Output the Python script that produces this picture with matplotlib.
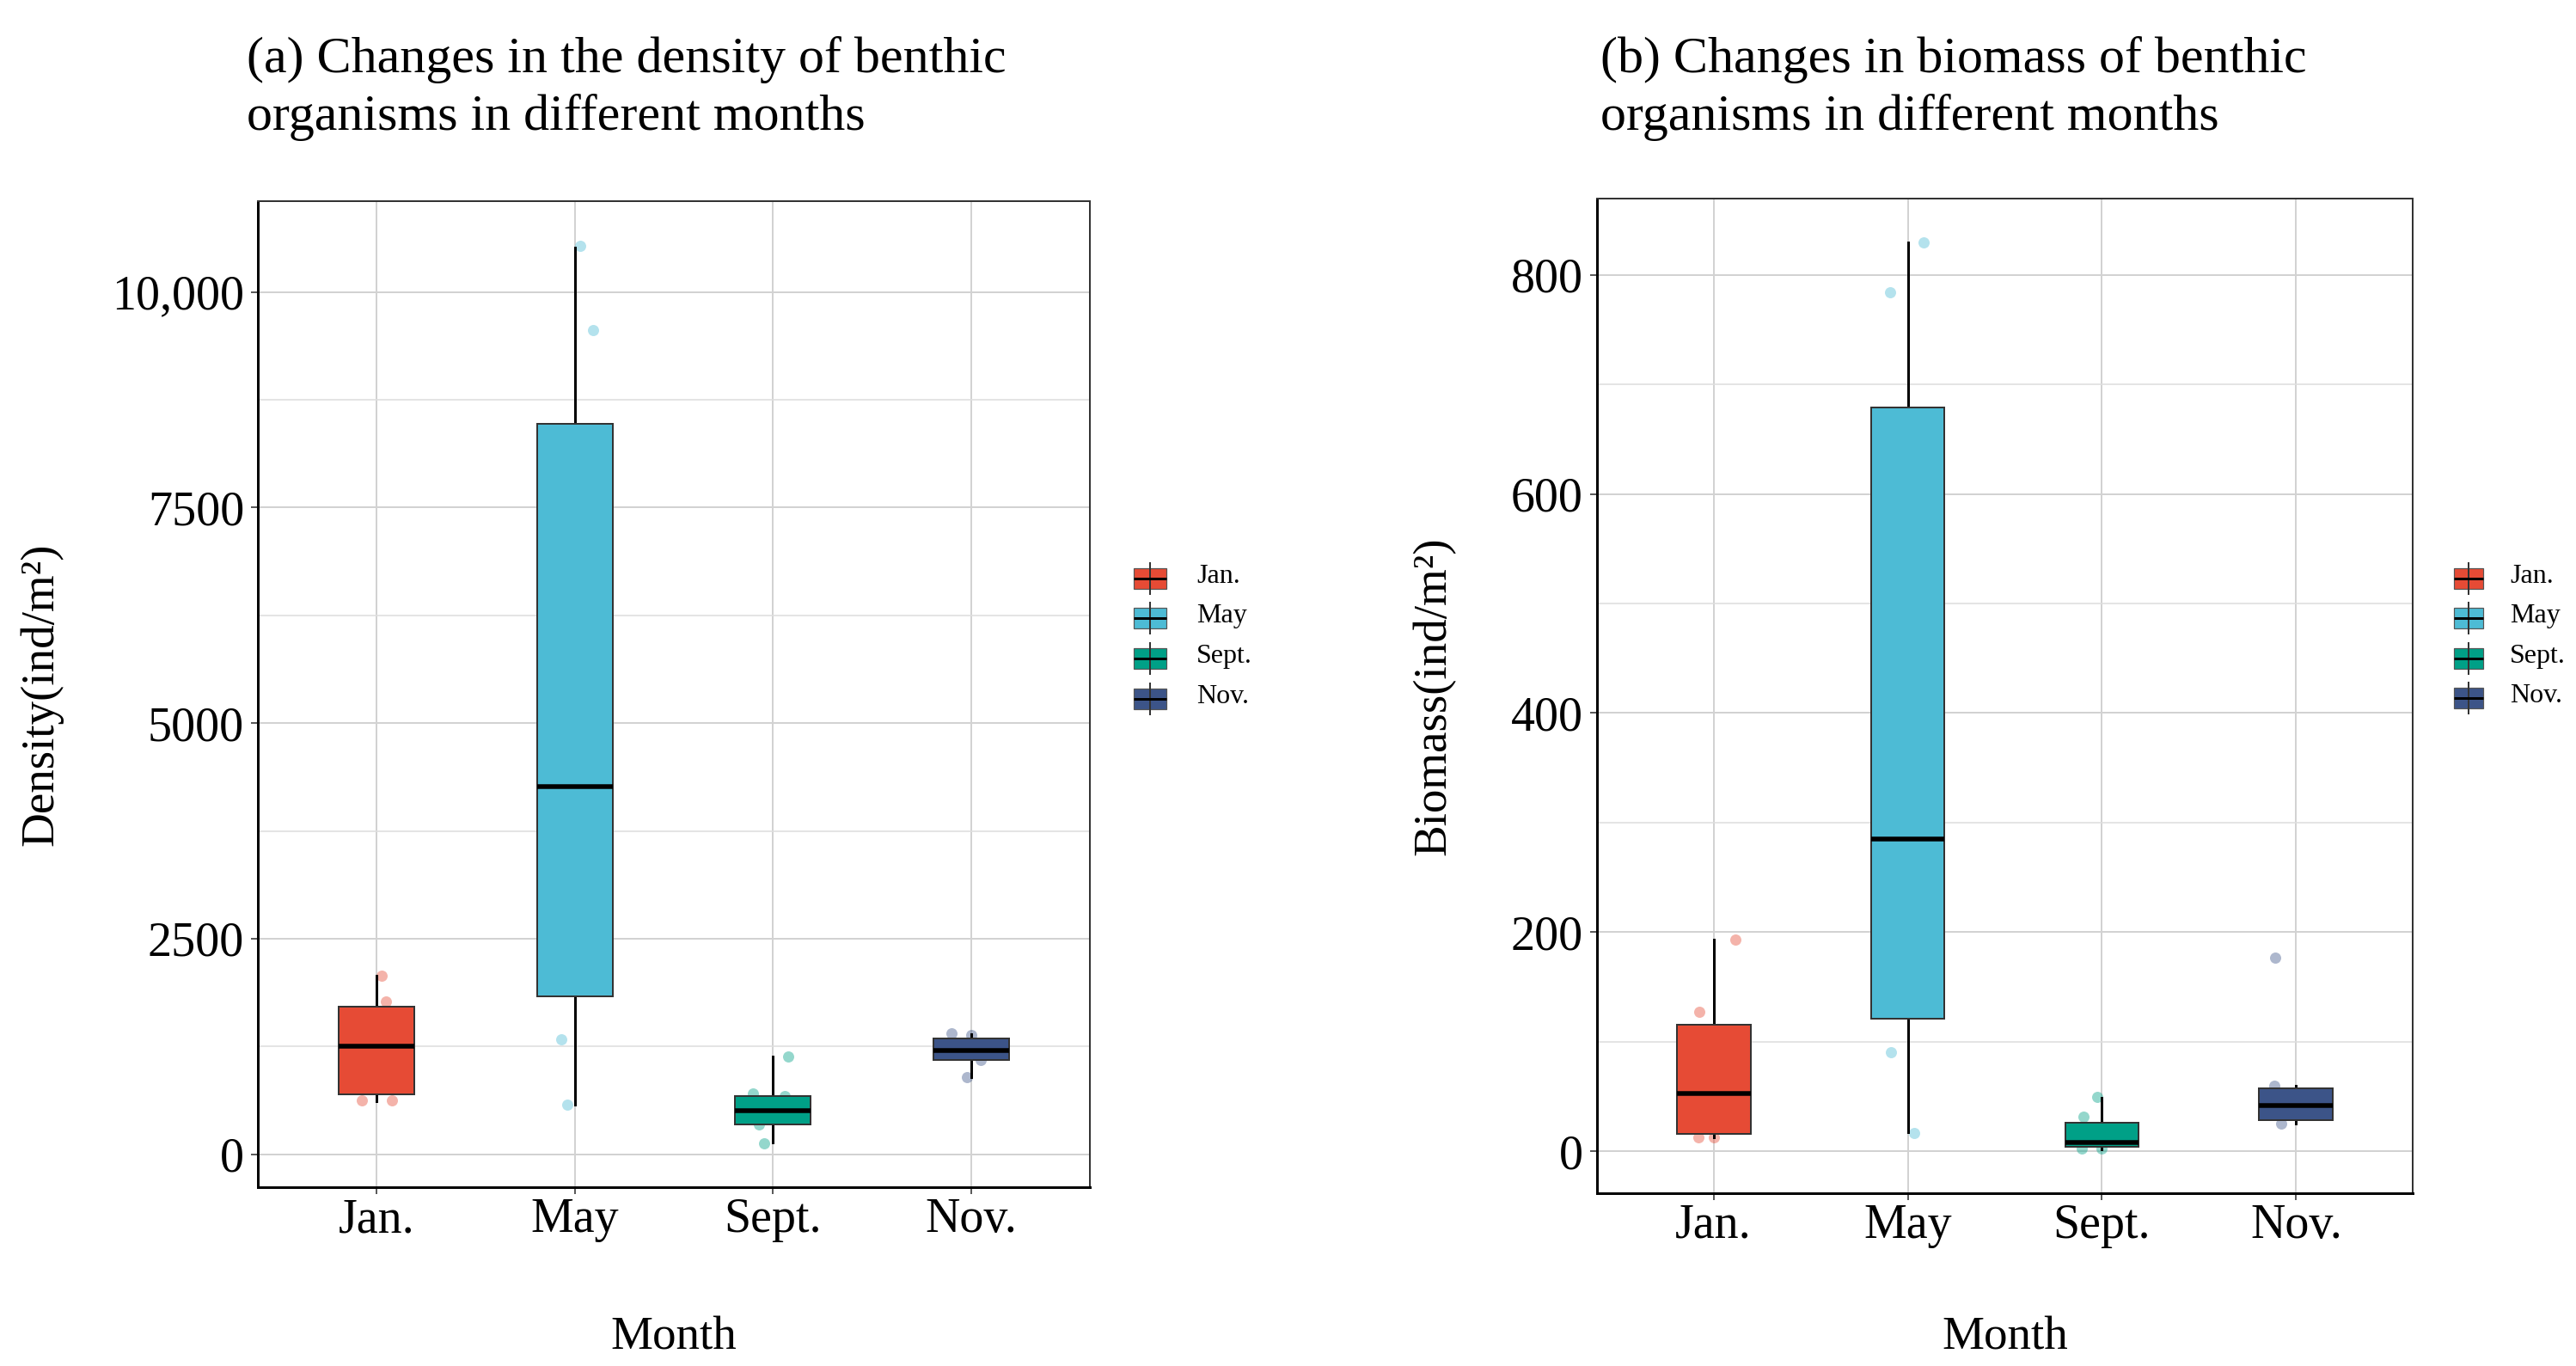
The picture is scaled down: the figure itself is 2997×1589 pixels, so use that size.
import matplotlib
matplotlib.use("Agg")
import matplotlib.pyplot as plt
import numpy as np
from matplotlib.patches import Rectangle
from matplotlib.ticker import FixedLocator, MultipleLocator

plt.rcParams['font.family'] = ['Liberation Serif', 'DejaVu Serif']

# ---------------- data ----------------
months = ['Jan.', 'May', 'Sept.', 'Nov.']
colors = ['#E64B35', '#4DBBD5', '#00A087', '#3C5488']

# density box statistics (ind/m2)
dens_lo = [617, 580, 135, 890]
dens_q1 = [693, 1832, 348, 1090]
dens_med = [1257, 4267, 502, 1206]
dens_q3 = [1716, 8473, 674, 1346]
dens_hi = [2068, 10519, 1130, 1389]

# density visible sample points and their jitter offsets
dens_pts_jan = [2071, 1771, 624, 624]
dens_jit_jan = [0.026, 0.048, -0.075, 0.077]
dens_pts_may = [10533, 9557, 1329, 580]
dens_jit_may = [0.028, 0.090, -0.069, -0.038]
dens_pts_sep = [1130, 707, 674, 342, 130]
dens_jit_sep = [0.079, -0.100, 0.058, -0.072, -0.046]
dens_pts_nov = [1405, 1381, 1093, 890]
dens_jit_nov = [-0.100, 0.000, 0.050, -0.020]

# biomass box statistics
bio_lo = [12.6, 17.4, 1.5, 25.2]
bio_q1 = [15.6, 120.6, 3.6, 28.2]
bio_med = [52.8, 285.1, 7.8, 42.0]
bio_q3 = [115.2, 678.8, 25.8, 57.0]
bio_hi = [193.2, 829.5, 48.6, 60.0]

bio_pts_jan = [193.1, 127.3, 12.6, 12.6]
bio_jit_jan = [0.114, -0.073, -0.079, 0.000]
bio_pts_may = [829.5, 784.5, 90.0, 16.8]
bio_jit_may = [0.082, -0.093, -0.087, 0.034]
bio_pts_sep = [49.2, 31.2, 2.4, 2.4]
bio_jit_sep = [-0.025, -0.096, -0.102, 0.000]
bio_pts_nov = [177.0, 60.0, 25.2]
bio_jit_nov = [-0.107, -0.113, -0.076]

dens_ticks = [0, 2500, 5000, 7500, 10000]
dens_ticklabels = ['0', '2500', '5000', '7500', '10,000']
bio_ticks = [0, 200, 400, 600, 800]
bio_ticklabels = ['0', '200', '400', '600', '800']

title_a = '(a) Changes in the density of benthic\norganisms in different months'
title_b = '(b) Changes in biomass of benthic\norganisms in different months'

# ---------------- figure ----------------
W, H = 2997, 1589
DPI = 100
fig = plt.figure(figsize=(W / DPI, H / DPI), dpi=DPI)
PT = 72.0 / DPI  # points per pixel


def px_axes(l, t, r, b):
    return fig.add_axes([l / W, 1 - b / H, (r - l) / W, (b - t) / H])


ax_a = px_axes(300, 234, 1268, 1381)
ax_b = px_axes(1858, 231, 2807, 1388)

TICK_FS = 56 * PT
LAB_FS = 55 * PT


def draw_panel(ax, lo, q1, med, q3, hi, pts, jits, ylim, minor_step,
               ticks, ticklabels, ylabel, ylabel_x, xlabel_y):
    pos = np.arange(1, len(months) + 1)
    # jittered points (drawn below boxes)
    for i, (p, j) in enumerate(zip(pts, jits)):
        ax.scatter(pos[i] + np.array(j), p, s=(13 * PT) ** 2,
                   color=colors[i], alpha=0.42, linewidths=0, zorder=2)
    stats = []
    for i in range(len(months)):
        stats.append(dict(med=med[i], q1=q1[i], q3=q3[i],
                          whislo=lo[i], whishi=hi[i], fliers=[]))
    bp = ax.bxp(stats, positions=pos, widths=0.38, patch_artist=True,
                showcaps=False, showfliers=False,
                boxprops=dict(edgecolor='#333333', linewidth=2 * PT),
                whiskerprops=dict(color='black', linewidth=3 * PT),
                medianprops=dict(color='black', linewidth=5.5 * PT,
                                 solid_capstyle='butt'))
    for patch, c in zip(bp['boxes'], colors):
        patch.set_facecolor(c)
        patch.set_zorder(3)
    for w in bp['whiskers']:
        w.set_zorder(2.8)
    for m in bp['medians']:
        m.set_zorder(4)

    ax.set_xlim(0.4, 4.6)
    ax.set_ylim(*ylim)
    ax.set_xticks(pos)
    ax.set_xticklabels(months, fontsize=TICK_FS)
    ax.yaxis.set_major_locator(FixedLocator(ticks))
    ax.set_yticklabels(ticklabels, fontsize=TICK_FS)
    ax.yaxis.set_minor_locator(MultipleLocator(minor_step))
    ax.grid(True, which='major', color='#d2d2d2', linewidth=2 * PT, zorder=0)
    ax.grid(True, which='minor', axis='y', color='#dedede',
            linewidth=1.6 * PT, zorder=0)
    ax.set_axisbelow(True)
    ax.tick_params(axis='both', which='major', length=8 * PT,
                   width=1.6 * PT, color='#333333', pad=4 * PT)
    ax.tick_params(axis='y', which='major', pad=8 * PT)
    ax.tick_params(axis='y', which='minor', length=0)
    for s in ['top', 'right']:
        ax.spines[s].set_color('#333333')
        ax.spines[s].set_linewidth(2 * PT)
    for s in ['left', 'bottom']:
        ax.spines[s].set_color('black')
        ax.spines[s].set_linewidth(3 * PT)
    ax.set_ylabel(ylabel, fontsize=LAB_FS)
    ax.yaxis.set_label_coords(ylabel_x, 0.5)
    ax.set_xlabel('Month', fontsize=LAB_FS, va='top')
    ax.xaxis.set_label_coords(0.5, xlabel_y)


draw_panel(ax_a, dens_lo, dens_q1, dens_med, dens_q3, dens_hi,
           [dens_pts_jan, dens_pts_may, dens_pts_sep, dens_pts_nov],
           [dens_jit_jan, dens_jit_may, dens_jit_sep, dens_jit_nov],
           (-381, 11053), 1250, dens_ticks, dens_ticklabels,
           'Density(ind/m²)', -0.2345, -0.131)
draw_panel(ax_b, bio_lo, bio_q1, bio_med, bio_q3, bio_hi,
           [bio_pts_jan, bio_pts_may, bio_pts_sep, bio_pts_nov],
           [bio_jit_jan, bio_jit_may, bio_jit_sep, bio_jit_nov],
           (-38.4, 869.7), 100, bio_ticks, bio_ticklabels,
           'Biomass(ind/m²)', -0.1736, -0.124)

# ---------------- overlay for titles & legends (pixel coords) ----------------
ov = fig.add_axes([0, 0, 1, 1], zorder=10)
ov.set_xlim(0, W)
ov.set_ylim(H, 0)
ov.axis('off')
ov.patch.set_alpha(0)

TITLE_FS = 60 * PT
ov.text(287, 42, title_a, fontsize=TITLE_FS, ha='left', va='top',
        linespacing=1.28)
ov.text(1862, 42, title_b, fontsize=TITLE_FS, ha='left', va='top',
        linespacing=1.28)

LEG_FS = 32 * PT


def draw_legend(x_left, key_w, text_x, ys):
    for y, c, lab in zip(ys, colors, months):
        xc = x_left + key_w / 2
        ov.plot([xc, xc], [y - 19, y + 19], color='#333333',
                linewidth=2 * PT, solid_capstyle='butt')
        ov.add_patch(Rectangle((x_left, y - 12), key_w, 24, facecolor=c,
                               edgecolor='#555555', linewidth=1.2 * PT))
        ov.plot([x_left, x_left + key_w], [y, y], color='black',
                linewidth=3 * PT, solid_capstyle='butt')
        ov.text(text_x, y + 5, lab, fontsize=LEG_FS, ha='left',
                va='baseline')


draw_legend(1319, 38, 1392, [673, 719, 766, 813])
draw_legend(2855, 34, 2920, [673, 719, 766, 812])

fig.savefig('out.png', dpi=DPI)
